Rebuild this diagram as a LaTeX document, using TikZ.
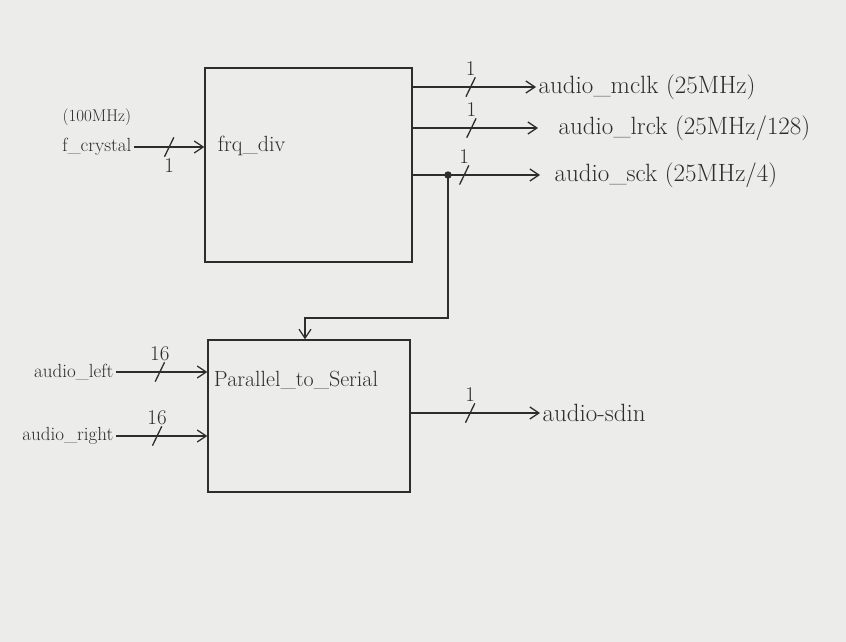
\documentclass[tikz,border=0pt]{standalone}
\usetikzlibrary{positioning,arrows.meta}
\definecolor{paper}{RGB}{236,236,234}
\definecolor{pencil}{RGB}{45,45,45}

\begin{document}
\begin{tikzpicture}[x=1pt, y=-1pt, font=\fontsize{22}{26}\selectfont, >={Straight Barb[length=9pt,width=12pt]},
  every path/.style={draw=pencil, line width=1.3pt}, text=pencil,
  blk/.style={draw, inner sep=0pt},
  insig/.style={anchor=east, inner sep=2pt, font=\fontsize{19}{22}\selectfont},
  outsig/.style={anchor=west, inner sep=2pt, font=\fontsize{25}{28}\selectfont},
  tick/.style={draw=none, inner sep=0pt, minimum width=8pt, minimum height=18pt},
  wlabel/.style={inner sep=1pt, font=\fontsize{21}{23}\selectfont}]
  \fill[paper, draw=none] (0,0) rectangle (846,642);

  % blocks
  \node[blk, minimum width=207pt, minimum height=194pt] (frq) at (308.5,165) {};
  \node[blk, minimum width=202pt, minimum height=152pt] (p2s) at (309,416) {};
  \node[anchor=west] (frqtxt) at (214,146) {frq\_div};
  \node[anchor=west] (p2stxt) at (210,380) {Parallel\_to\_Serial};

  % clock input
  \node[insig] (fcrys) at (134,147) {f\_crystal};
  \node[above=6pt of fcrys, font=\fontsize{17}{20}\selectfont] (fin) {(100MHz)};
  \draw[->] (fcrys.east) -- node[tick, pos=.5, label={[wlabel]below:1}] (t0) {} (fcrys -| frq.west);
  \draw (t0.south west) -- (t0.north east);

  % clock outputs
  \node[outsig] (mclk) at (536,87) {audio\_mclk (25MHz)};
  \node[outsig] (lrck) at (556,128) {audio\_lrck (25MHz/128)};
  \node[outsig] (sck) at (552,175) {audio\_sck (25MHz/4)};
  \draw[->] (mclk -| frq.east) -- node[tick, pos=.47, label={[wlabel]above:1}] (t1) {} (mclk.west);
  \draw[->, shorten >=18pt] (lrck -| frq.east) -- node[tick, pos=.41, label={[wlabel]above:1}] (t2) {} (lrck.west);
  \draw[->, shorten >=12pt] (sck -| frq.east) -- node[tick, pos=.37, label={[wlabel]above:1}] (t3) {} (sck.west);
  \foreach \t in {t1,t2,t3}
    \draw (\t.south west) -- (\t.north east);

  % sck branch into the serializer
  \coordinate (br) at (448,175);
  \coordinate (drop) at (305,318);
  \fill[pencil] (br) circle (3pt);
  \draw[->] (br) |- (drop) -- (drop |- p2s.north);

  % data inputs
  \node[insig] (aleft) at (116,372) {audio\_left};
  \node[insig] (aright) at (116,436) {audio\_right};
  \draw[->] (aleft.east) -- node[tick, pos=.48, label={[wlabel]above:16}] (t4) {} (aleft -| p2s.west);
  \draw[->] (aright.east) -- node[tick, pos=.45, label={[wlabel]above:16}] (t5) {} (aright -| p2s.west);
  \draw (t4.south west) -- (t4.north east);
  \draw (t5.south west) -- (t5.north east);

  % serial output
  \node[outsig] (sdin) at (540,413) {audio-sdin};
  \draw[->] (sdin -| p2s.east) -- node[tick, pos=.46, label={[wlabel]above:1}] (t6) {} (sdin.west);
  \draw (t6.south west) -- (t6.north east);
\end{tikzpicture}
\end{document}
